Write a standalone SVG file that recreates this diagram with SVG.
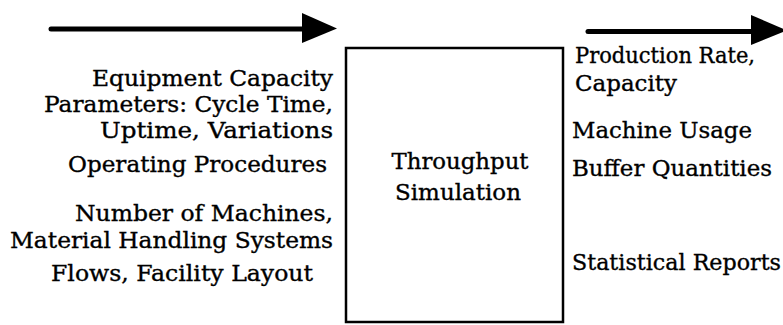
<svg xmlns="http://www.w3.org/2000/svg" width="783" height="325" viewBox="0 0 783 325">
<style>
.t{font-family:"DejaVu Serif","Liberation Serif",serif;font-size:22px;fill:#000;stroke:#000;stroke-width:0.35}
.l{text-anchor:end}
.c{text-anchor:middle}
.shaft{stroke:#000;stroke-width:5;stroke-linecap:round;fill:none}
.head{fill:#000}
</style>
<rect width="783" height="325" fill="#fff"/>
<g id="connectors">
<line class="shaft" x1="51" y1="29" x2="306" y2="29"/>
<polygon class="head" points="302,13 337,28.5 302,43"/>
<line class="shaft" x1="588" y1="31.5" x2="755" y2="31.5"/>
<polygon class="head" points="751,15 787,30.5 751,45"/>
</g>
<g id="inputs">
<text class="t l" x="333" y="86" textLength="241" lengthAdjust="spacingAndGlyphs">Equipment Capacity</text>
<text class="t l" x="333" y="112" textLength="289" lengthAdjust="spacingAndGlyphs">Parameters: Cycle Time,</text>
<text class="t l" x="333" y="138" textLength="233" lengthAdjust="spacingAndGlyphs">Uptime, Variations</text>
<text class="t l" x="327" y="172" textLength="259" lengthAdjust="spacingAndGlyphs">Operating Procedures</text>
<text class="t l" x="333" y="221" textLength="258" lengthAdjust="spacingAndGlyphs">Number of Machines,</text>
<text class="t l" x="333" y="248" textLength="323" lengthAdjust="spacingAndGlyphs">Material Handling Systems</text>
<text class="t l" x="313" y="281" textLength="262" lengthAdjust="spacingAndGlyphs">Flows, Facility Layout</text>
</g>
<g id="simulation">
<rect x="346" y="48" width="217" height="274" fill="#fff" stroke="#000" stroke-width="2.5"/>
<text class="t c" x="460" y="169" textLength="137" lengthAdjust="spacingAndGlyphs">Throughput</text>
<text class="t c" x="458" y="200" textLength="126" lengthAdjust="spacingAndGlyphs">Simulation</text>
</g>
<g id="outputs">
<text class="t" x="575" y="63" textLength="180" lengthAdjust="spacingAndGlyphs">Production Rate,</text>
<text class="t" x="575" y="91" textLength="102" lengthAdjust="spacingAndGlyphs">Capacity</text>
<text class="t" x="572" y="138" textLength="180" lengthAdjust="spacingAndGlyphs">Machine Usage</text>
<text class="t" x="572" y="176" textLength="200" lengthAdjust="spacingAndGlyphs">Buffer Quantities</text>
<text class="t" x="572" y="270" textLength="209" lengthAdjust="spacingAndGlyphs">Statistical Reports</text>
</g>
</svg>
